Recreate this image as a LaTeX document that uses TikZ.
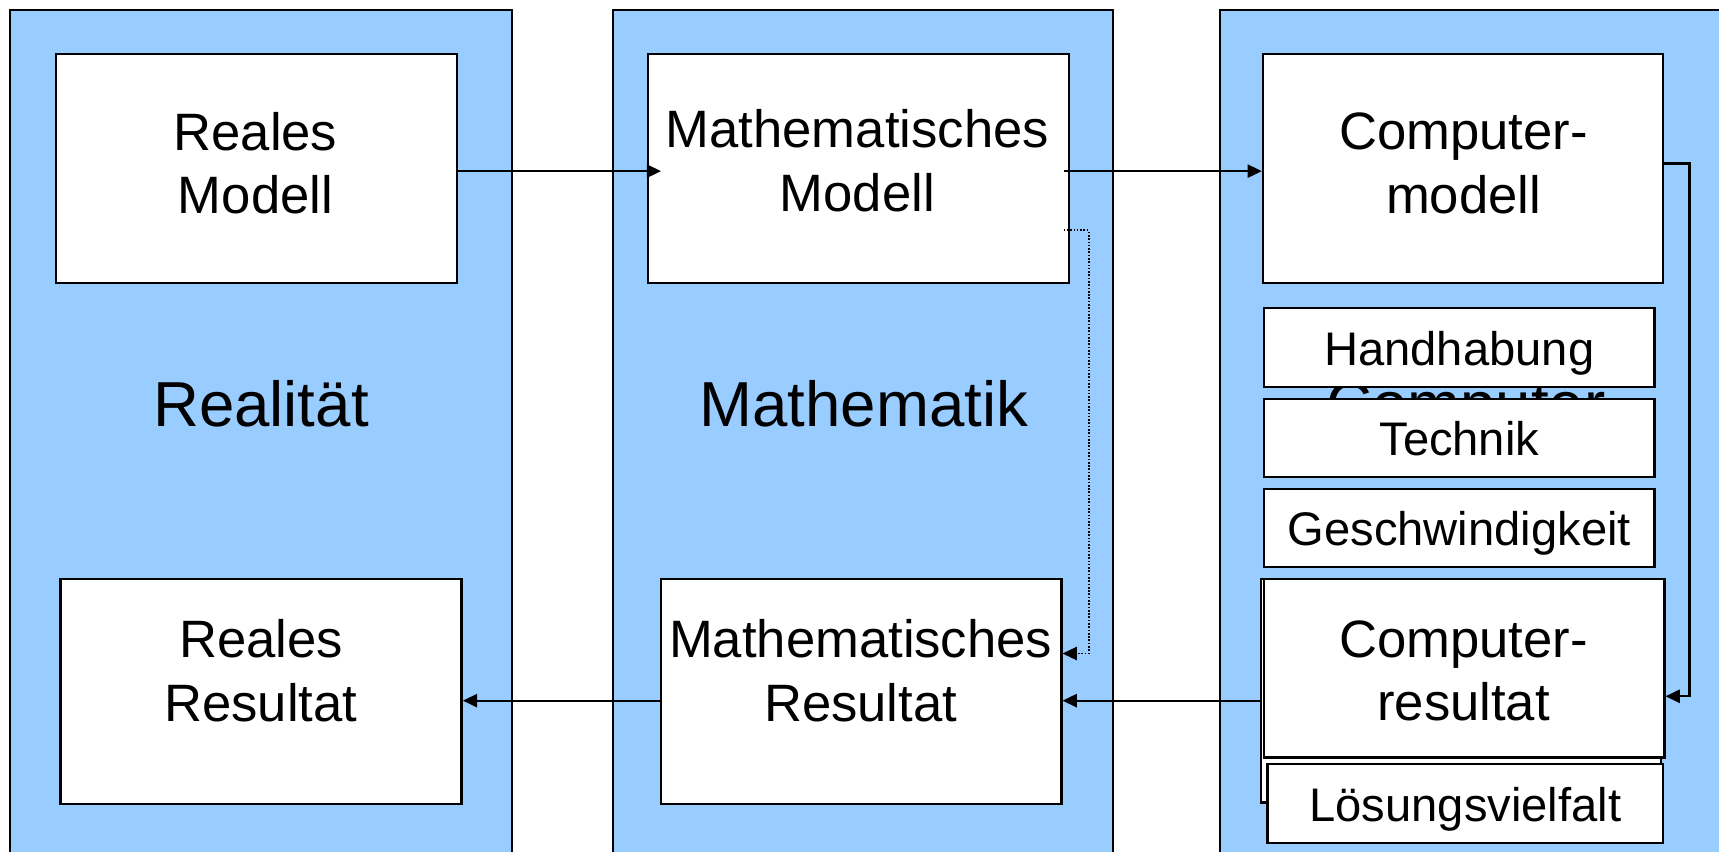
\documentclass[tikz,border=0pt]{standalone}
\usepackage{fontspec}
\setmainfont{Liberation Sans}
\usetikzlibrary{arrows.meta}
\definecolor{panelblue}{HTML}{99CCFF}
\begin{document}
\begin{tikzpicture}[x=1pt,y=-1pt,
  panel/.style={draw=black,line width=2pt,fill=panelblue,inner sep=0pt,anchor=north west},
  box/.style={draw=black,line width=2.2pt,fill=white,inner sep=0pt,anchor=north west},
  bigtxt/.style={font=\fontsize{48}{58}\selectfont,align=center,inner sep=0pt,anchor=center},
  lbl/.style={font=\fontsize{58}{70}\selectfont,inner sep=0pt,anchor=base},
  small/.style={box,font=\fontsize{43}{52}\selectfont,text height=32pt,text depth=0pt},
  conn/.style={line width=2pt,-{Triangle[length=13pt,width=12pt]}},
  dotconn/.style={line width=1.6pt,dash pattern=on 1.5pt off 1.5pt,-{Triangle[length=13pt,width=12pt]}}]
\useasboundingbox (0,0) rectangle (1568,777);
\clip (0,0) rectangle (1568,777);
\fill[white] (0,0) rectangle (1568,777);

% panels
\node[panel,minimum width=458pt,minimum height=800pt] (pR) at (8,8) {};
\node[panel,minimum width=456pt,minimum height=800pt] (pM) at (558,8) {};
\node[panel,minimum width=520pt,minimum height=800pt] (pC) at (1112,8) {};

% panel labels
\node[lbl] (lR) at (238,389) {Realität};
\node[lbl] (lM) at (788,389) {Mathematik};
\node[lbl] (lC) at (1337,389) {Computer};

% boxes
\node[box,minimum width=366pt,minimum height=209pt] (rm) at (50,48) {};
\node[box,minimum width=384pt,minimum height=209pt] (mm) at (590,48) {};
\node[box,minimum width=365pt,minimum height=209pt] (cm) at (1151,48) {};
\node[box,minimum width=366pt,minimum height=205pt] (rr) at (54,527) {};
\node[box,minimum width=365pt,minimum height=205pt] (mr) at (602,527) {};
\node[box,minimum width=365pt,minimum height=204pt] (crb) at (1149,527) {};
\node[box,minimum width=365pt,minimum height=163pt] (cr) at (1152,527) {};

\node[small,minimum width=356pt,minimum height=72pt] (hh) at (1152,280) {Handhabung};
\node[small,minimum width=356pt,minimum height=71pt] (te) at (1152,363) {Technik};
\node[small,minimum width=356pt,minimum height=71pt] (ge) at (1152,445) {Geschwindigkeit};
\node[small,minimum width=361pt,minimum height=72pt] (lv) at (1155,696) {Lösungsvielfalt};

% box texts
\node[bigtxt] (rmt) at (233,148.8) {Reales\\Modell};
\node[bigtxt] (mmt) at (782,146.8) {Mathematisches\\Modell};
\node[bigtxt] (cmt) at (1335,148.8) {Computer-\\modell};
\node[bigtxt] (rrt) at (238,611.8) {Reales\\Resultat};
\node[bigtxt] (mrt) at (785,611.8) {Mathematisches\\Resultat};
\node[bigtxt] (crt) at (1335,611.8) {Computer-\\resultat};

% connectors
\coordinate (dv) at (993,400);
\coordinate (cv) at (1541,400);
\draw[conn] ([yshift=-2.5pt]rm.east) -- ([xshift=13pt,yshift=-2.5pt]mm.west);
\draw[conn] ([xshift=-6pt,yshift=-2.5pt]mm.east) -- ([yshift=-2.5pt]cm.west);
\draw[dotconn] ([xshift=-6pt,yshift=-56.5pt]mm.east) -| (dv) |- ([yshift=34.5pt]mr.east);
\draw[conn] ([yshift=4.5pt]cm.east) -| (cv) |- ([yshift=-25.5pt]cr.east);
\draw[conn] ([yshift=-9pt]crb.west) -- ([yshift=-8.5pt]mr.east);
\draw[conn] ([yshift=-8.5pt]mr.west) -- ([yshift=-8.5pt]rr.east);
\end{tikzpicture}
\end{document}
